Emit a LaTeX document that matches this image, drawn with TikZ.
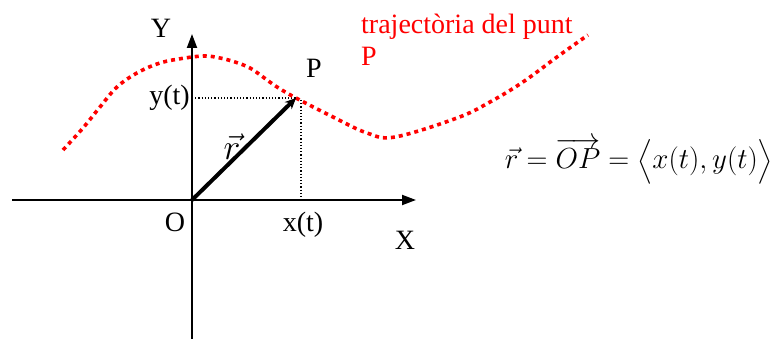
\RequirePackage{fix-cm}
\documentclass[tikz,border=0pt]{standalone}
\usepackage{fontspec}
\setmainfont{Liberation Serif}
\usepackage{amsmath}
\usepackage{xcolor}
\usetikzlibrary{arrows.meta,calc}

\begin{document}
\begin{tikzpicture}[
    x=1pt, y=1pt,
    axis/.style={line width=2pt, -{Triangle[length=14pt,width=10pt]}},
    guide/.style={line width=1.1pt, dash pattern=on 1.2pt off 2pt},
    path/.style={red, line width=3.6pt, dash pattern=on 4pt off 4pt},
    vect/.style={line width=4pt, -{Stealth[length=11pt,width=10pt]}},
    lbl/.style={font=\fontsize{28}{32}\selectfont, inner sep=0pt}
]
    \useasboundingbox (0,0) rectangle (777,339);

    % Axes
    \coordinate (O) at (192,139);
    \coordinate (xstart) at (12,139);
    \coordinate (xend) at (416,139);
    \coordinate (ystart) at (192,0);
    \coordinate (yend) at (192,305);
    \draw[axis] (xstart) -- (xend);
    \draw[axis] (ystart) -- (yend);

    % Point P and its projections
    \coordinate (P) at (296,241);
    \coordinate (Px) at (301,239);
    \coordinate (xt) at (301,139);
    \draw[guide] (P -| O) -- (P);
    \draw[guide] (Px) -- (xt);

    % Trajectory
    \draw[path] plot[smooth, tension=0.6] coordinates {
        (63,189) (83,211) (100,232) (117,252) (137,266) (160,276) (185,281)
        (205,283) (220,281) (235,277) (250,271) (263,262) (277,252) (P)
        (333,222) (367,206) (395,202) (457,221) (490,237) (523,257) (557,282) (588,304)};

    % Position vector
    \draw[vect] (O) -- (P);

    % Labels
    \node[lbl] (ylab) at (161,311) {Y};
    \node[lbl] (xlab) at (405,99) {X};
    \node[lbl] (olab) at (175,117) {O};
    \node[lbl] (plab) at (314,271) {P};
    \node[lbl, anchor=east] (ytlab) at (190,241) {y(t)};
    \node[lbl] (xtlab) at (303,114) {x(t)};
    \node[inner sep=0pt, font=\fontsize{36}{40}\selectfont] (rlab) at (232,192) {$\vec{r}$};
    \node[lbl, red, anchor=west, align=left] (trajlab) at (361,299) {trajectòria del punt\\P};
    \node[inner sep=0pt, font=\fontsize{29}{34}\selectfont] (eq) at (639,178)
        {$\vec{r}=\overrightarrow{OP}=\bigl\langle x(t),y(t)\bigr\rangle$};
\end{tikzpicture}
\end{document}
